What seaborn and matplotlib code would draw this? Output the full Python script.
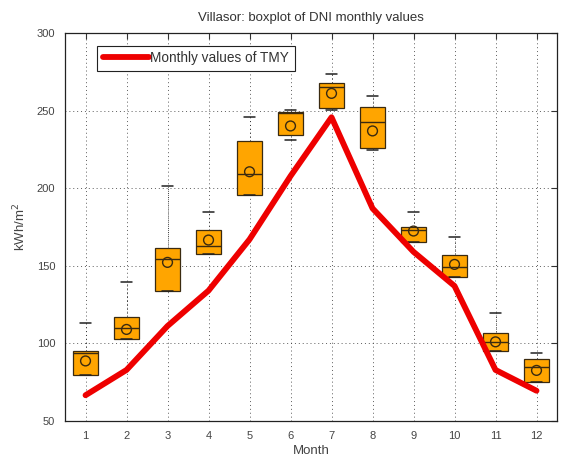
import matplotlib
matplotlib.use("Agg")
import matplotlib.pyplot as plt
import numpy as np
import pandas as pd
import seaborn as sns

# Monthly DNI statistics (kWh/m2) for Villasor
months = [1, 2, 3, 4, 5, 6, 7, 8, 9, 10, 11, 12]
whisker_low = [79.4, 102.8, 134.0, 157.4, 195.6, 231.0, 250.5, 224.6, 165.1, 143.0, 95.1, 75.0]
q1 = [79.4, 102.8, 134.0, 157.4, 195.6, 234.1, 251.9, 225.7, 165.1, 143.0, 95.1, 75.0]
median = [93.5, 110.0, 154.2, 162.8, 209.1, 248.5, 265.0, 242.8, 173.0, 149.4, 101.1, 84.5]
q3 = [95.1, 117.2, 161.3, 173.0, 230.6, 249.3, 268.0, 252.5, 175.2, 157.0, 106.9, 90.0]
whisker_high = [113.3, 139.4, 201.6, 184.5, 245.7, 250.5, 273.4, 259.6, 184.5, 168.8, 119.8, 93.6]
mean = [88.7, 109.0, 152.2, 166.6, 210.6, 240.1, 261.1, 236.9, 172.4, 150.9, 101.0, 82.6]
tmy = [66.6, 82.9, 111.2, 134.0, 167.0, 207.8, 245.7, 187.0, 159.0, 137.0, 82.9, 69.5]

# Five summary values per month reproduce the quartiles exactly
rows = []
for m, lo, a, md, b, hi in zip(months, whisker_low, q1, median, q3, whisker_high):
    for v in (lo, a, md, b, hi):
        rows.append({"Month": m, "DNI": v})
box_df = pd.DataFrame(rows)
mean_df = pd.DataFrame({"Month": months, "DNI": mean})
tmy_df = pd.DataFrame({"Month": months, "DNI": tmy})

sns.set_style("white")
plt.rcParams["font.family"] = ["Liberation Sans", "DejaVu Sans"]

fig = plt.figure(figsize=(5.61, 4.59), dpi=100)
ax = fig.add_axes([0.1159, 0.0828, 0.877, 0.8453])

edge = "#3a2a10"
sns.boxplot(data=box_df, x="Month", y="DNI", native_scale=True, whis=np.inf,
            width=0.6, color="#FFA500", saturation=1, linecolor=edge,
            linewidth=0.9, ax=ax, zorder=3,
            whiskerprops={"linestyle": (0, (1, 3)), "color": "#333333", "linewidth": 0.7},
            capprops={"color": "#222222", "linewidth": 1.1},
            medianprops={"color": edge, "linewidth": 1.0},
            capwidths=0.27)

sns.lineplot(data=tmy_df, x="Month", y="DNI", color="#ee0000", linewidth=4.2,
             ax=ax, zorder=4, label="Monthly values of TMY")

sns.scatterplot(data=mean_df, x="Month", y="DNI", marker="o", s=50,
                facecolor="none", edgecolor=edge, linewidth=1.0, ax=ax, zorder=5)

ax.set_xlim(0.5, 12.5)
ax.set_ylim(50, 300)
ax.set_xticks(months)
ax.set_xticklabels([str(m) for m in months])
ax.set_yticks([50, 100, 150, 200, 250, 300])

ax.grid(True, linestyle=(0, (1, 3)), color="#333333", linewidth=0.7, alpha=0.8)
ax.set_axisbelow(True)
ax.tick_params(direction="in", length=4, width=0.8, top=True, right=True,
               labelsize=8, colors="#333333", labelcolor="#444444", pad=7)
for s in ax.spines.values():
    s.set_color("#222222")
    s.set_linewidth(0.9)

ax.set_xlabel("Month", fontsize=9.5, color="#444444", labelpad=3)
ax.set_ylabel("kWh/m$^2$", fontsize=9.5, color="#444444", labelpad=6)
ax.set_title("Villasor: boxplot of DNI monthly values", fontsize=9.5, color="#333333", pad=9)

leg = ax.legend(loc="upper left", bbox_to_anchor=(0.052, 0.985), fontsize=9.8,
                handlelength=3.4, handletextpad=0.1, borderpad=0.4,
                frameon=True, fancybox=False, framealpha=1)
leg.get_frame().set_edgecolor("#222222")
leg.get_frame().set_linewidth(0.8)
for t in leg.get_texts():
    t.set_color("#333333")

fig.savefig("out.png", dpi=100)
